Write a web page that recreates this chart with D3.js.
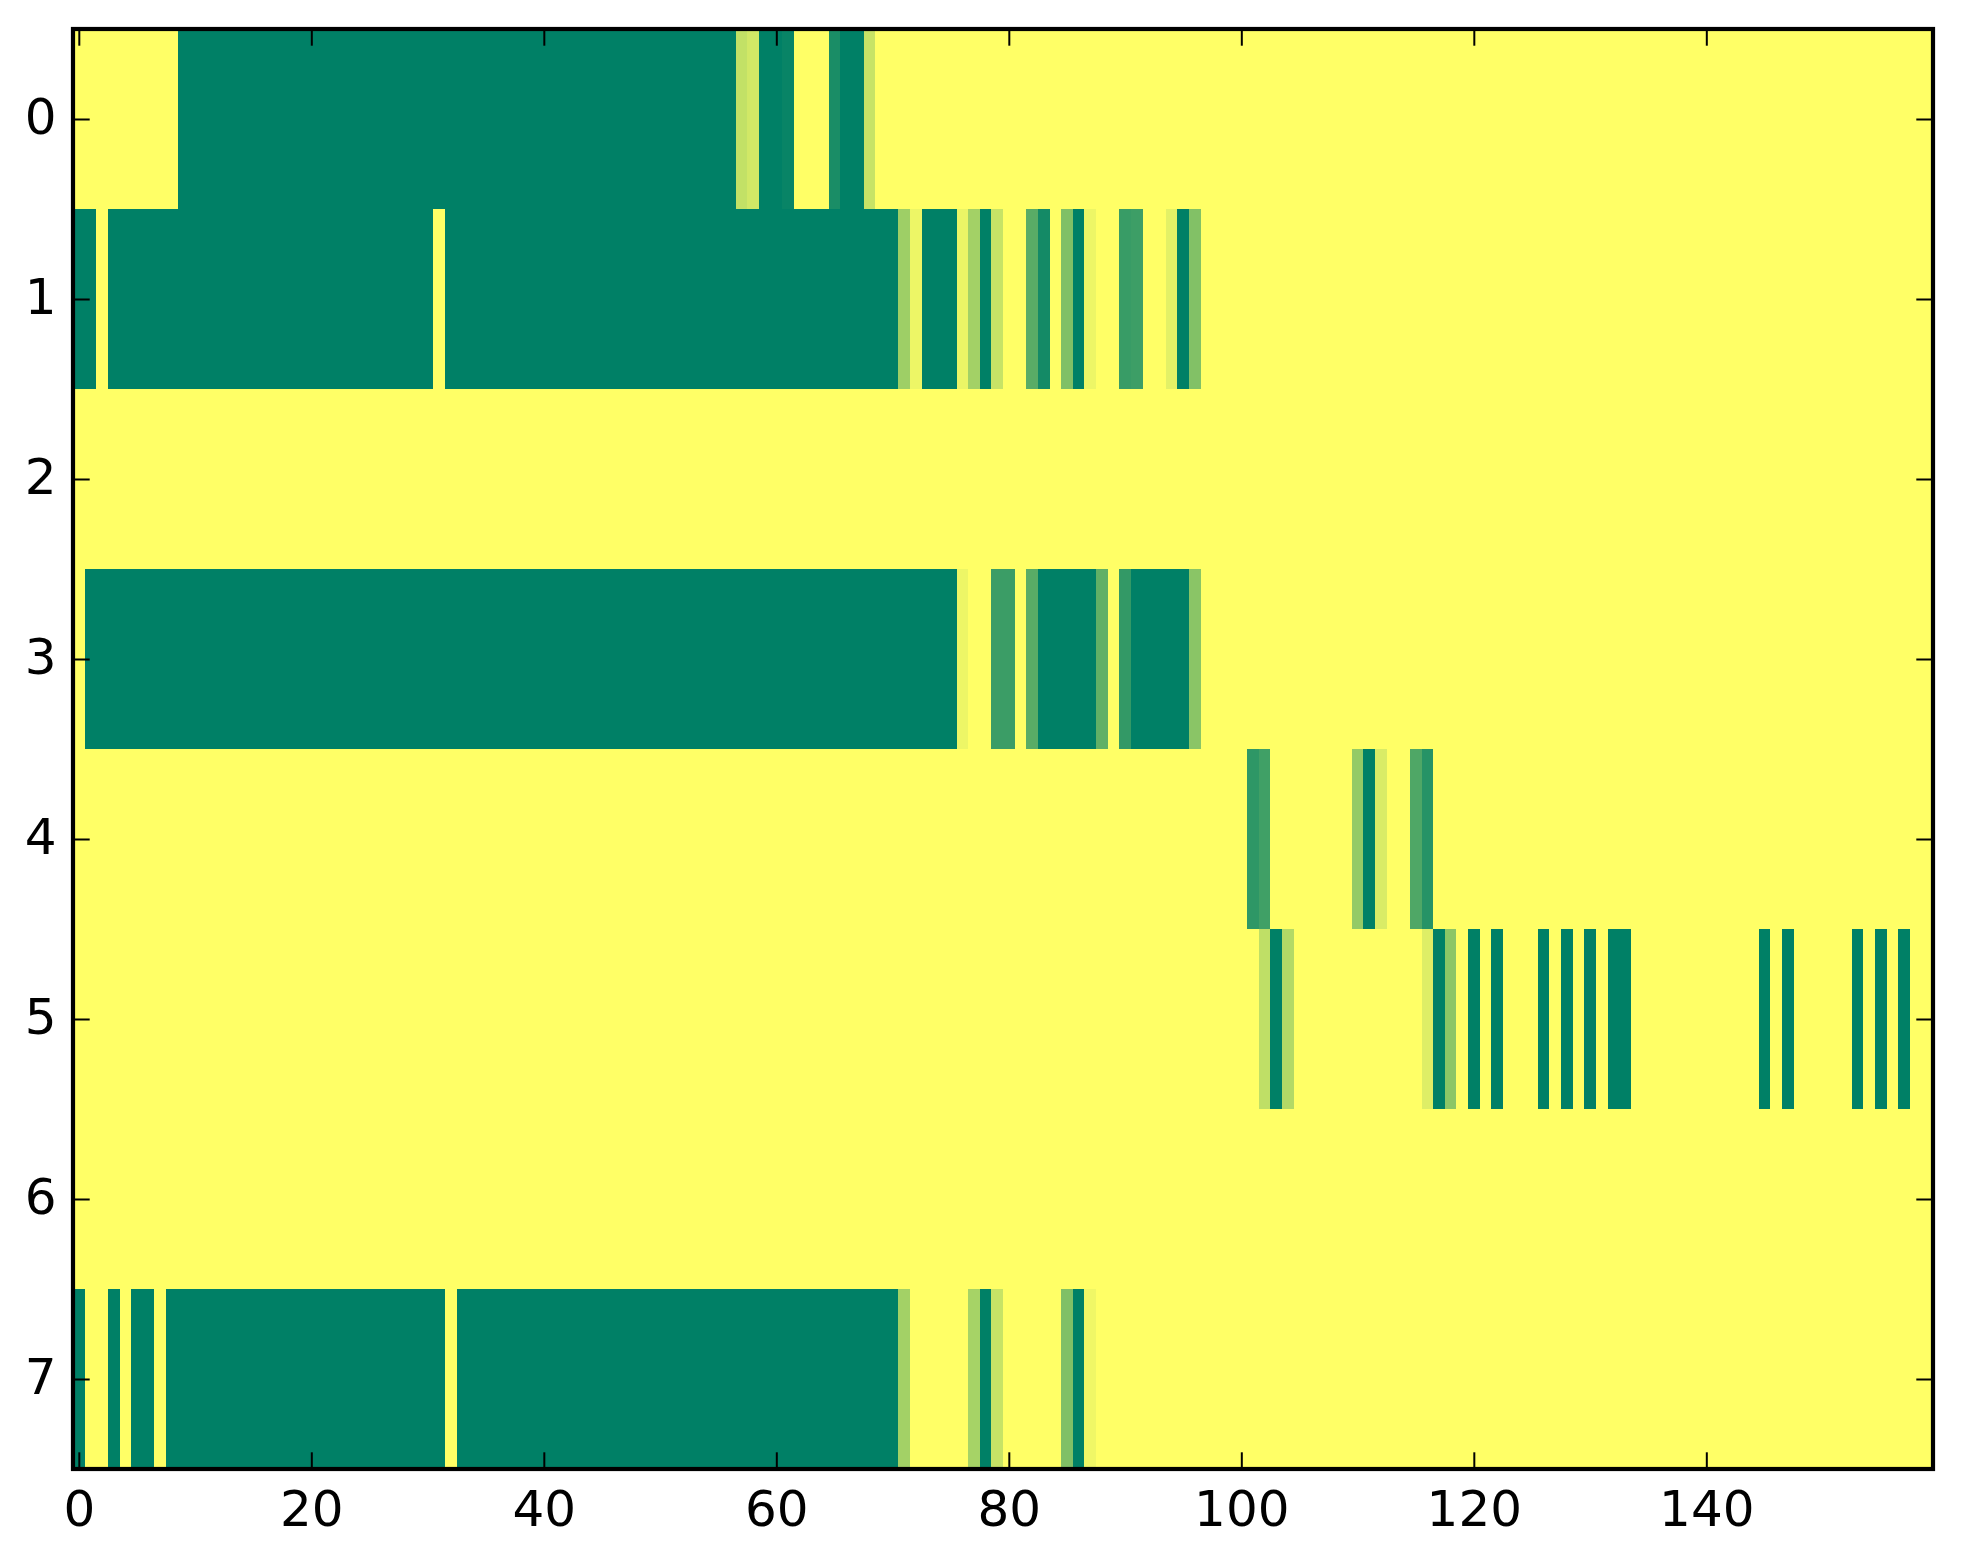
<!DOCTYPE html>
<html lang="en">
<head>
	<meta charset="utf-8">
	<script src="https://cdn.jsdelivr.net/npm/d3@7"></script>
	<style>
		body{ margin:0; background:white; }
		svg{ display:block; }
		.tick text{ font-family:"DejaVu Sans"; font-size:50px; fill:black; }
		.tick line{ stroke:black; stroke-width:2px; }
		.domain{ display:none; }
	</style>
</head>
<body>
	<script>
		// rows of the image, each as runs of non-zero cells: [first col, last col, value]
		var nCols = 160;
		var rowLabels = [0, 1, 2, 3, 4, 5, 6, 7];
		var xTicks = [0, 20, 40, 60, 80, 100, 120, 140];

		var row0 = [[9,56,1],[57,57,0.24],[58,58,0.18],[59,60,1],[61,61,0.97],[65,65,0.9],[66,67,1],[68,68,0.22]];
		var row1 = [[0,1,1],[3,30,1],[32,70,1],[71,71,0.38],[72,72,0.07],[73,75,1],[76,76,0.08],[77,77,0.36],
			[78,78,1],[79,79,0.22],[82,82,0.65],[83,83,0.92],[85,85,0.5],[86,86,1],[87,87,0.07],
			[90,90,0.78],[91,91,0.76],[94,94,0.11],[95,95,1],[96,96,0.49]];
		var row2 = [];
		var row3 = [[1,75,1],[76,76,0.07],[79,80,0.77],[82,82,0.65],[83,87,1],[88,88,0.62],[90,90,0.8],[91,95,1],[96,96,0.46]];
		var row4 = [[101,101,0.82],[102,102,0.75],[110,110,0.42],[111,111,1],[112,112,0.15],[115,115,0.69],[116,116,0.85]];
		var row5 = [[102,102,0.25],[103,103,1],[104,104,0.3],[116,116,0.13],[117,117,1],[118,118,0.45],
			[120,120,1],[122,122,1],[126,126,1],[128,128,1],[130,130,1],[132,133,1],
			[145,145,1],[147,147,1],[153,153,1],[155,155,1],[157,157,1]];
		var row6 = [];
		var row7 = [[0,0,1],[3,3,1],[5,6,1],[8,31,1],[33,70,1],[71,71,0.36],[77,77,0.35],[78,78,1],
			[79,79,0.22],[85,85,0.5],[86,86,1],[87,87,0.06]];

		var rows = [row0, row1, row2, row3, row4, row5, row6, row7];

		var width = 1963, height = 1564;
		var x0 = 73, x1 = 1933, y0 = 29, y1 = 1469;

		var svg = d3.select("body").append("svg")
			.attr("width", width)
			.attr("height", height);

		var x = d3.scaleLinear().domain([-0.5, nCols - 0.5]).range([x0, x1]);
		var y = d3.scaleLinear().domain([-0.5, rows.length - 0.5]).range([y0, y1]);
		// summer_r : 0 -> yellow, 1 -> dark green
		var color = d3.scaleLinear().domain([0, 1]).range(["#ffff66", "#008066"]);

		// expand runs into one cell per column
		var cells = [];
		rows.forEach(function(runs, r){
			var vals = new Array(nCols).fill(0);
			runs.forEach(function(run){
				for(var c = run[0]; c <= run[1]; c++) vals[c] = run[2];
			});
			vals.forEach(function(v, c){ cells.push({row: r, col: c, value: v}); });
		});

		svg.append("g").attr("id", "cells")
			.selectAll("rect")
			.data(cells).enter()
			.append("rect")
			.attr("x", function(d){ return x(d.col - 0.5); })
			.attr("y", function(d){ return y(d.row - 0.5); })
			.attr("width", function(d){ return x(d.col + 0.5) - x(d.col - 0.5) + 0.4; })
			.attr("height", function(d){ return y(d.row + 0.5) - y(d.row - 0.5) + 0.4; })
			.attr("fill", function(d){ return color(d.value); })
			.attr("shape-rendering", "crispEdges");

		// ticks point inward (classic style), on all four sides
		svg.append("g")
			.attr("transform", "translate(0," + y1 + ")")
			.call(d3.axisBottom(x).tickValues(xTicks).tickSize(-16.7).tickPadding(21.5).tickFormat(d3.format("d")));
		svg.append("g")
			.attr("transform", "translate(0," + y0 + ")")
			.call(d3.axisTop(x).tickValues(xTicks).tickSize(-16.7).tickFormat(""));
		svg.append("g")
			.attr("transform", "translate(" + x0 + ",0)")
			.call(d3.axisLeft(y).tickValues(rowLabels).tickSize(-16.7).tickPadding(16.5).tickFormat(d3.format("d")))
			.selectAll("text").attr("dy", "0.29em");
		svg.append("g")
			.attr("transform", "translate(" + x1 + ",0)")
			.call(d3.axisRight(y).tickValues(rowLabels).tickSize(-16.7).tickFormat(""));

		svg.append("rect")
			.attr("x", x0).attr("y", y0)
			.attr("width", x1 - x0).attr("height", y1 - y0)
			.attr("fill", "none")
			.attr("stroke", "black")
			.attr("stroke-width", 4.2);
	</script>
</body>
</html>
